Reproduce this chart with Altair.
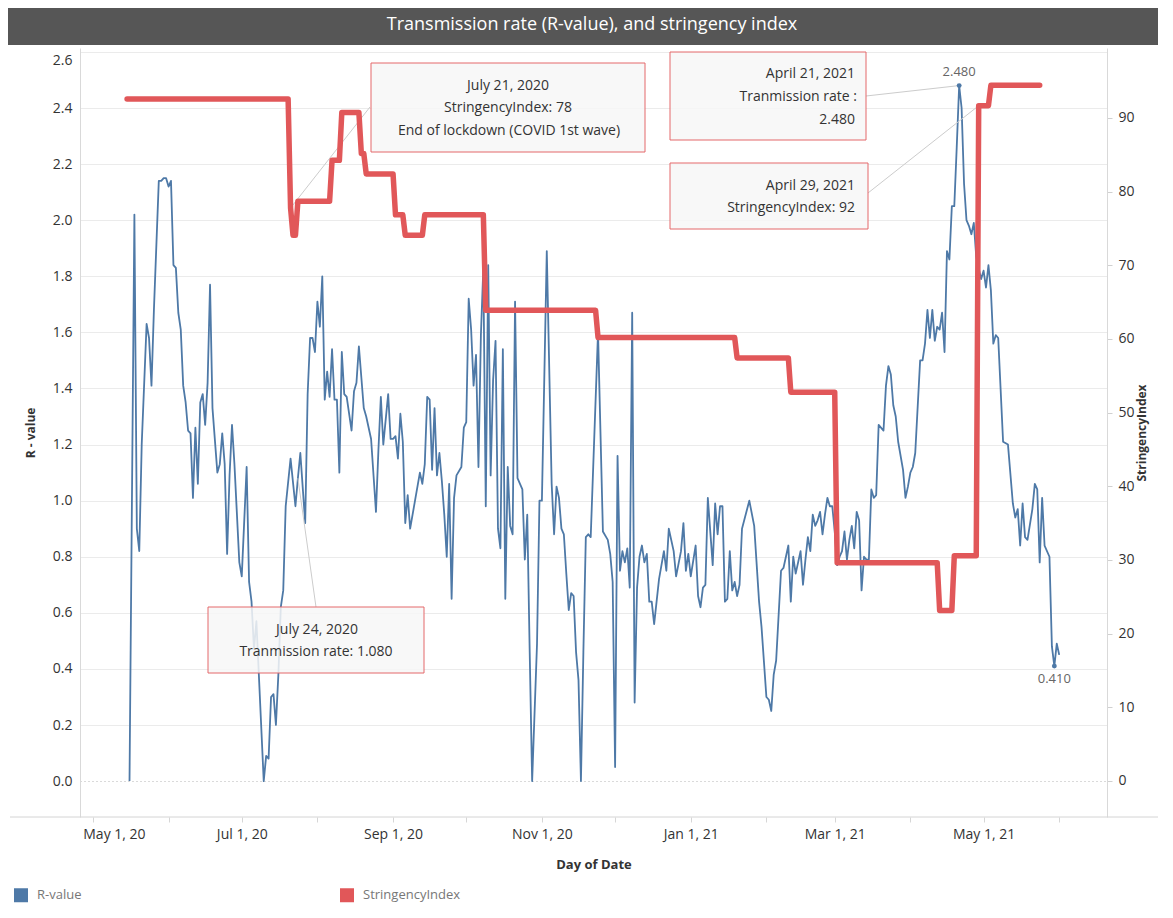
import altair as alt
import pandas as pd

START = pd.Timestamp("2020-05-01")

# ---- R-value (day offset from May 1, 2020 -> value) ----
r_days = [15, 17, 18, 19, 20, 22, 23, 24, 25, 27, 28, 29, 30, 31, 32, 33, 34, 35, 36, 37, 38, 39, 40,
          41, 42, 43, 44, 45, 46, 47, 48, 49, 51, 52, 53, 54, 55, 56, 57, 58, 60, 61, 63, 64, 65, 66,
          67, 68, 70, 71, 72, 73, 74, 75, 76, 77, 78, 79, 81, 83, 84, 85, 87, 88, 89, 90, 91, 92, 93,
          94, 95, 96, 97, 98, 99, 100, 101, 102, 103, 104, 106, 107, 108, 109, 110, 111, 112, 113,
          114, 116, 117, 118, 119, 121, 122, 123, 124, 125, 126, 127, 128, 129, 130, 132, 134, 135,
          136, 137, 138, 139, 140, 141, 142, 143, 144, 145, 146, 147, 148, 149, 151, 152, 153, 154,
          155, 156, 157, 158, 159, 160, 161, 162, 163, 164, 165, 166, 167, 168, 169, 170, 171, 172,
          173, 174, 176, 177, 178, 179, 180, 182, 183, 184, 186, 188, 189, 190, 191, 192, 193, 194,
          195, 196, 197, 198, 199, 200, 201, 202, 203, 204, 207, 209, 211, 212, 213, 214, 215, 216,
          217, 218, 219, 220, 221, 222, 223, 224, 225, 226, 227, 228, 229, 230, 232, 234, 235, 236,
          238, 239, 241, 242, 243, 244, 245, 247, 248, 249, 250, 251, 252, 254, 255, 256, 257, 258,
          259, 260, 261, 262, 263, 264, 265, 266, 269, 271, 273, 274, 276, 277, 278, 279, 280, 282,
          283, 285, 286, 287, 288, 289, 290, 291, 292, 293, 294, 295, 296, 297, 298, 299, 300, 301,
          302, 303, 304, 305, 306, 307, 308, 309, 310, 311, 312, 313, 314, 315, 316, 317, 318, 319,
          320, 321, 322, 324, 325, 326, 327, 328, 329, 330, 332, 333, 334, 335, 336, 337, 339, 340,
          341, 342, 343, 344, 345, 346, 347, 348, 349, 350, 351, 352, 353, 354, 355, 356, 357, 358,
          359, 360, 361, 362, 364, 365, 366, 367, 368, 369, 370, 371, 373, 375, 377, 378, 379, 380,
          381, 382, 383, 385, 386, 387, 388, 389, 390, 392, 393, 394, 395, 396]
r_vals = [0.00, 2.02, 0.90, 0.82, 1.20, 1.63, 1.58, 1.41, 1.68, 2.14, 2.14, 2.15, 2.15, 2.12, 2.14, 1.84,
          1.83, 1.67, 1.61, 1.41, 1.35, 1.25, 1.24, 1.01, 1.26, 1.06, 1.35, 1.38, 1.27, 1.42, 1.77,
          1.33, 1.10, 1.13, 1.24, 1.13, 0.81, 1.09, 1.27, 1.13, 0.78, 0.73, 1.12, 0.71, 0.64, 0.47,
          0.57, 0.38, 0.00, 0.09, 0.08, 0.30, 0.31, 0.20, 0.38, 0.62, 0.68, 0.98, 1.15, 0.98, 1.08,
          1.17, 0.92, 1.38, 1.58, 1.58, 1.53, 1.71, 1.62, 1.80, 1.36, 1.46, 1.37, 1.54, 1.36, 1.36,
          1.10, 1.53, 1.38, 1.37, 1.25, 1.39, 1.42, 1.55, 1.44, 1.33, 1.30, 1.26, 1.22, 0.96, 1.18,
          1.37, 1.20, 1.38, 1.22, 1.22, 1.23, 1.15, 1.31, 1.21, 0.92, 1.02, 0.90, 1.00, 1.10, 1.06,
          1.13, 1.37, 1.36, 1.11, 1.33, 1.09, 1.17, 1.07, 0.95, 0.80, 1.06, 0.65, 1.01, 1.09, 1.12,
          1.26, 1.28, 1.72, 1.61, 1.41, 1.52, 1.12, 1.59, 1.83, 0.98, 1.84, 1.09, 1.43, 1.57, 0.90,
          0.83, 1.54, 0.65, 1.12, 0.91, 0.88, 1.71, 1.08, 1.04, 0.79, 0.95, 0.46, 0.00, 0.49, 1.00,
          1.00, 1.89, 1.06, 0.88, 1.05, 1.01, 0.90, 0.88, 0.74, 0.61, 0.67, 0.66, 0.46, 0.36, 0.00,
          0.46, 0.87, 0.88, 0.87, 1.60, 0.89, 0.86, 0.81, 0.71, 0.05, 1.16, 0.75, 0.82, 0.78, 0.83,
          0.69, 1.67, 0.28, 0.69, 0.80, 0.84, 0.78, 0.81, 0.64, 0.64, 0.56, 0.72, 0.82, 0.75, 0.90,
          0.82, 0.73, 0.82, 0.92, 0.75, 0.81, 0.73, 0.84, 0.66, 0.62, 0.69, 0.70, 1.01, 0.77, 0.99,
          0.88, 0.98, 0.98, 0.64, 0.65, 0.82, 0.68, 0.71, 0.66, 0.70, 0.90, 1.00, 0.91, 0.64, 0.55,
          0.30, 0.29, 0.25, 0.38, 0.43, 0.75, 0.76, 0.84, 0.64, 0.80, 0.74, 0.78, 0.82, 0.70, 0.79,
          0.87, 0.82, 0.95, 0.91, 0.93, 0.96, 0.88, 0.95, 1.01, 0.98, 0.98, 0.89, 0.77, 0.80, 0.82,
          0.89, 0.79, 0.86, 0.91, 0.83, 0.96, 0.93, 0.68, 0.80, 0.79, 0.79, 1.04, 1.01, 1.02, 1.27,
          1.25, 1.41, 1.48, 1.45, 1.34, 1.30, 1.21, 1.11, 1.01, 1.05, 1.10, 1.12, 1.17, 1.50, 1.50,
          1.56, 1.68, 1.58, 1.68, 1.57, 1.62, 1.61, 1.67, 1.53, 1.89, 1.86, 2.05, 2.05, 2.26, 2.48,
          2.40, 2.13, 2.00, 1.98, 1.95, 1.99, 1.87, 1.79, 1.82, 1.76, 1.84, 1.75, 1.56, 1.59, 1.58,
          1.21, 1.20, 0.99, 0.94, 0.97, 0.84, 0.99, 0.87, 0.86, 0.97, 1.06, 1.04, 0.78, 1.01, 0.84,
          0.80, 0.48, 0.41, 0.49, 0.45]

# ---- Stringency index (day offset -> value) ----
s_days = [14, 80, 81, 82, 83, 84, 97, 98, 101, 102, 109, 110, 111, 112, 123, 124, 127, 128, 135, 136,
          160, 161, 206, 207, 263, 264, 285, 286, 304, 305, 346, 347, 352, 353, 362, 363, 367, 368, 388]
s_vals = [92.59, 92.59, 77.78, 74.07, 74.07, 78.70, 78.70, 84.26, 84.26, 90.74, 90.74, 85.19, 85.19,
          82.41, 82.41, 76.85, 76.85, 74.07, 74.07, 76.85, 76.85, 63.89, 63.89, 60.19, 60.19, 57.41,
          57.41, 52.78, 52.78, 29.63, 29.63, 23.15, 23.15, 30.56, 30.56, 91.67, 91.67, 94.44, 94.44]

measures = ["R-value", "StringencyIndex"]
colors = ["#4e79a7", "#e15759"]
tick_months = [(2020, m) for m in range(5, 13)] + [(2021, m) for m in range(1, 7)]
r_ticks = [0.0, 0.2, 0.4, 0.6, 0.8, 1.0, 1.2, 1.4, 1.6, 1.8, 2.0, 2.2, 2.4, 2.6]
s_ticks = [0, 10, 20, 30, 40, 50, 60, 70, 80, 90]
title_text = "Transmission rate (R-value), and stringency index"

r_df = pd.DataFrame({"date": START + pd.to_timedelta(r_days, unit="D"), "day": r_days,
                     "value": r_vals, "measure": measures[0]})
s_df = pd.DataFrame({"date": START + pd.to_timedelta(s_days, unit="D"), "day": s_days,
                     "value": s_vals, "measure": measures[1]})

W, H = 1027, 769
FONT = "Open Sans"
TXT = "#333333"
one = pd.DataFrame({"k": [0]})

x_enc = alt.X(
    "date:T", title="Day of Date",
    scale=alt.Scale(domain=[alt.DateTime(year=2020, month=4, date=25, hours=17),
                            alt.DateTime(year=2021, month=6, date=20, hours=14)]),
    axis=alt.Axis(
        values=[alt.DateTime(year=y, month=m, date=1) for (y, m) in tick_months],
        labelExpr="month(datum.value) % 2 == 0 ? timeFormat(datum.value, '%b %-d, %y') : ''",
        grid=False, domain=False, ticks=True, tickSize=5, tickColor="#d6d6d6",
        labelPadding=5, labelFontSize=14, labelColor=TXT, labelFont=FONT, labelFlush=False,
        labelOverlap=False, titleFont=FONT, titleFontSize=13, titleFontWeight="bold",
        titleColor=TXT, titlePadding=17,
        labelOffset={"condition": {"test": "year(datum.value) == 2020 && month(datum.value) == 4",
                                   "value": 21}, "value": 0},
    ),
)

y_left = alt.Y(
    "value:Q", title="R - value",
    scale=alt.Scale(domain=[-0.128, 2.614], nice=False, zero=False),
    axis=alt.Axis(
        orient="left", values=r_ticks, format=".1f",
        grid=True,
        gridColor={"condition": {"test": "datum.value === 0", "value": "#b5b5b5"}, "value": "#ebebeb"},
        gridDash={"condition": {"test": "datum.value === 0", "value": [1, 3]}, "value": []},
        domain=True, domainColor="#d9d9d9", ticks=False, labelPadding=8,
        labelFontSize=14, labelColor=TXT, labelFont=FONT,
        titleFont=FONT, titleFontSize=12, titleFontWeight="bold", titleColor=TXT, titlePadding=15,
        labelOffset={"condition": {"test": "datum.value > 2.55", "value": 9}, "value": 0},
    ),
)

y_right = alt.Y(
    "value:Q", title="StringencyIndex",
    scale=alt.Scale(domain=[-4.9, 99.5], nice=False, zero=False),
    axis=alt.Axis(
        orient="right", values=s_ticks, grid=False, domain=True, domainColor="#d9d9d9",
        ticks=True, tickSize=5, tickColor="#d0d0d0", labelPadding=6,
        labelFontSize=14, labelColor=TXT, labelFont=FONT,
        titleFont=FONT, titleFontSize=12, titleFontWeight="bold", titleColor=TXT,
        titlePadding=14, titleAngle=270,
    ),
)

color_enc = alt.Color(
    "measure:N",
    scale=alt.Scale(domain=measures, range=colors),
    legend=alt.Legend(
        orient="none", legendX=-66, legendY=840, direction="horizontal", title=None,
        symbolType="square", symbolSize=25, symbolStrokeWidth=9,
        labelFont=FONT, labelFontSize=13, labelColor="#777777", labelOffset=9,
        columnPadding=244,
    ),
)

r_line = alt.Chart(r_df).mark_line(strokeWidth=1.8, strokeJoin="round").encode(
    x=x_enc, y=y_left, color=color_enc)
s_line = alt.Chart(s_df).mark_line(strokeWidth=5.5, strokeJoin="round", strokeCap="round").encode(
    x=x_enc, y=y_right, color=color_enc)


def date_str(d):
    return f"{d:%B} {d.day}, {d.year}"


def leader(df, y_enc, px, py):
    return alt.Chart(df).mark_rule(color="#cccccc", strokeWidth=1).encode(
        x=x_enc, y=y_enc, x2=alt.value(px), y2=alt.value(py))


def box(x0, y0, x1, y1):
    return alt.Chart(one).mark_rect(fill="#f7f7f7", fillOpacity=0.85, stroke="#e4696b",
                                    strokeWidth=1).encode(
        x=alt.value(x0), x2=alt.value(x1), y=alt.value(y0), y2=alt.value(y1))


def line_text(s, x, y, align="center", size=14, color=TXT):
    return alt.Chart(one).mark_text(text=s, align=align, baseline="middle", fontSize=size,
                                    color=color, font=FONT).encode(x=alt.value(x), y=alt.value(y))


# annotated points, looked up in the data
p_jul24 = r_df[r_df.day == 84]
p_peak = r_df[r_df.day == 355]
p_last = r_df[r_df.day == 394]
p_jul21 = s_df[s_df.day == 81]
p_apr29 = s_df[s_df.day == 363]

lab_peak = p_peak.assign(label=p_peak.value.map(lambda v: f"{v:.3f}"))
lab_last = p_last.assign(label=p_last.value.map(lambda v: f"{v:.3f}"))

dots = alt.Chart(pd.concat([p_peak, p_last])).mark_circle(size=24, color=colors[0], opacity=1).encode(
    x=x_enc, y=y_left)
txt_peak = alt.Chart(lab_peak).mark_text(baseline="bottom", dy=-7, fontSize=13, color="#666666",
                                         font=FONT).encode(x=x_enc, y=y_left, text="label:N")
txt_last = alt.Chart(lab_last).mark_text(baseline="top", dy=7, fontSize=13, color="#666666",
                                         font=FONT).encode(x=x_enc, y=y_left, text="label:N")

left = alt.layer(
    r_line,
    leader(p_jul24, y_left, 236, 559),
    leader(p_peak, y_left, 786, 48),
    dots, txt_peak, txt_last,
)
right = alt.layer(
    leader(p_jul21, y_right, 290, 59),
    leader(p_apr29, y_right, 788, 145),
    s_line,
)

d21 = p_jul21.date.iloc[0]
s21 = p_jul21.value.iloc[0]
d_pk = p_peak.date.iloc[0]
v_pk = p_peak.value.iloc[0]
d29 = p_apr29.date.iloc[0]
s29 = p_apr29.value.iloc[0]
d24 = p_jul24.date.iloc[0]
v24 = p_jul24.value.iloc[0]

title_bar = alt.Chart(one).mark_rect(fill="#565656").encode(
    x=alt.value(-72), x2=alt.value(1078), y=alt.value(-40), y2=alt.value(-3))
title_lbl = line_text(title_text, 512, -23, size=18, color="#ffffff")
bottom_line = alt.Chart(one).mark_rule(color="#d4d4d4", strokeWidth=1).encode(
    x=alt.value(-70), x2=alt.value(1078), y=alt.value(769))

annots = [
    box(291, 15, 565, 104),
    line_text(date_str(d21), 428, 38),
    line_text(f"StringencyIndex: {round(s21)}", 428, 60),
    line_text("End of lockdown (COVID 1st wave)", 429, 83),
    box(590, 4, 786, 92),
    line_text(date_str(d_pk), 775, 26, align="right"),
    line_text("Tranmission rate :", 777, 49, align="right"),
    line_text(f"{v_pk:.3f}", 775, 72, align="right"),
    box(590, 115, 788, 181),
    line_text(date_str(d29), 775, 138, align="right"),
    line_text(f"StringencyIndex: {round(s29)}", 775, 160, align="right"),
    box(128, 559, 344, 625),
    line_text(date_str(d24), 237, 582),
    line_text(f"Tranmission rate: {v24:.3f}", 236, 604),
]

chart = alt.layer(
    title_bar, title_lbl, bottom_line, left, right, *annots
).resolve_scale(y="independent").properties(
    width=W, height=H, padding={"left": 0, "top": 0, "right": 0, "bottom": 0}
).configure(font=FONT).configure_view(stroke=None)

chart.save("out.html", embed_options={"renderer": "svg", "actions": False})
